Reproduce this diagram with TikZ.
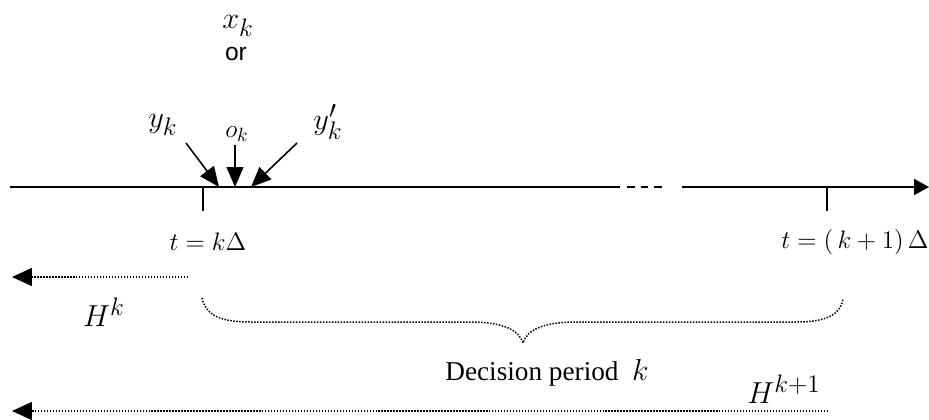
\documentclass[tikz,border=0pt]{standalone}
\usepackage{fontspec}
\setmainfont{Liberation Serif}
\newfontfamily\orfont{Liberation Sans}
\usetikzlibrary{arrows.meta,positioning}

\begin{document}
\begin{tikzpicture}[x=0.02cm,y=-0.02cm]
    \tikzset{axis/.style={line width=1.1pt},
      hint/.style={line width=0.9pt,-{Triangle[length=0.4cm,width=0.34cm]}},
      span/.style={line width=0.85pt,dash pattern=on 0.85pt off 0.85pt},
      horizon/.style={span,-{Triangle[length=0.4cm,width=0.36cm]}},
      lbl/.style={inner sep=0pt},
      huge/.style={lbl,font=\fontsize{19}{21}\selectfont},
      big/.style={lbl,font=\fontsize{15}{17}\selectfont}}
    \useasboundingbox (0,0) rectangle (929,419);
    % time axis
    \coordinate (a0) at (10,187);
    \coordinate (a1) at (620,187);
    \coordinate (a2) at (682,187);
    \coordinate (a3) at (929,187);
    \draw[axis] (a0) -- (a1);
    \draw[axis,dash pattern=on 4.3pt off 3.4pt] (627,187) -- (663,187);
    \draw[axis,-{Triangle[length=0.3cm,width=0.32cm]}] (a2) -- (a3);
    \coordinate (tk) at (203,187);
    \coordinate (tk1) at (827,187);
    \draw[axis] (tk) -- ++(0,24);
    \draw[axis] (tk1) -- ++(0,24);
    \node[big] (tklbl) at (208,242) {$t=k\Delta$};
    \node[big,anchor=east] (tk1lbl) at (929,242) {$t=\bigl(\,k+1\bigr)\,\Delta$};
    % observations
    \node[lbl,font=\fontsize{19}{21}\selectfont] (xk) at (238,26) {$x_k$};
    \node[lbl,font=\orfont\fontsize{14}{16}\selectfont] (or) at (236,54) {or};
    \node[huge] (yk) at (163,125) {$y_k$};
    \node[lbl,font=\fontsize{15}{17}\selectfont] (ok) at (237,134) {$o_k$};
    \node[huge] (ykp) at (328,122) {$y'_k$};
    \coordinate (syk) at (186,143);
    \coordinate (sok) at (235,145);
    \coordinate (sykp) at (297,143);
    \coordinate (eyk) at (219,187);
    \coordinate (eok) at (235,187);
    \coordinate (eykp) at (251,187);
    \draw[hint] (syk) -- (eyk);
    \draw[hint] (sok) -- (eok);
    \draw[hint] (sykp) -- (eykp);
    % horizons
    \coordinate (hk0) at (188,277);
    \coordinate (hk1) at (12,277);
    \draw[horizon] (hk0) -- (hk1);
    \node[huge] (hk) at (104,312) {$H^k$};
    \coordinate (hn0) at (828,411);
    \coordinate (hn1) at (12,411);
    \draw[horizon] (hn0) -- (hn1);
    \node[huge] (hn) at (784,389) {$H^{k+1}$};
    % decision period brace
    \coordinate (bl) at (202,298);
    \coordinate (bt) at (523,343);
    \coordinate (br) at (843,299);
    \draw[span] (bl) .. controls (206,316) and (222,322) .. (250,322) -- (470,322)
      .. controls (503,322) and (519,330) .. (bt)
      .. controls (527,330) and (543,322) .. (576,322) -- (796,322)
      .. controls (824,322) and (840,316) .. (br);
    \node[lbl,anchor=base west,font=\fontsize{15.5}{18}\selectfont] (dec) at (445,380)
      {Decision period\ \ \fontsize{19}{21}\selectfont$k$};
\end{tikzpicture}
\end{document}
